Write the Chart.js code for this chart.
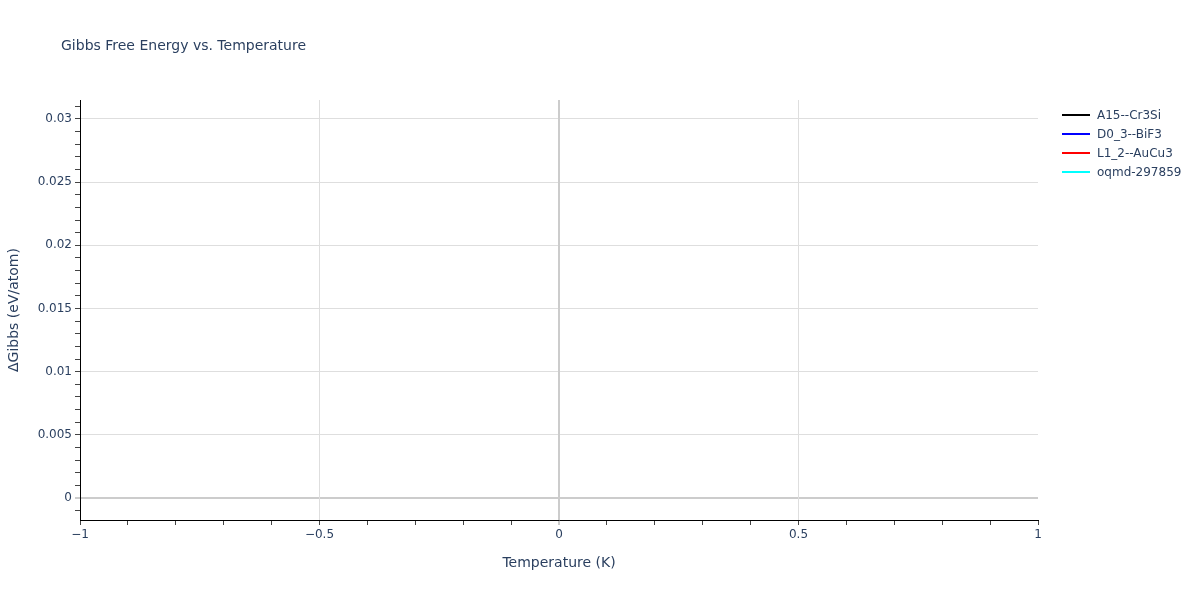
<!DOCTYPE html>
<html>
<head>
<meta charset="utf-8">
<script src="https://cdn.jsdelivr.net/npm/chart.js@4"></script>
<style>
    body { margin: 0; background: #fff; font-family: 'DejaVu Sans', sans-serif; color: #2a3f5f; }
    #wrap { position: relative; width: 1200px; height: 600px; }
    #title { position: absolute; left: 61px; top: 37px; font-size: 14px; white-space: nowrap; }
    #legend { position: absolute; left: 1062px; top: 105px; font-size: 12px; }
    .item { display: flex; align-items: center; height: 19px; }
    .swatch { width: 28px; height: 2px; margin-right: 7px; }
</style>
</head>
<body>
<div id="wrap">
    <canvas id="gibbsChart" width="1200" height="600"></canvas>
    <div id="title">Gibbs Free Energy vs. Temperature</div>
    <div id="legend"></div>
</div>
<script>
// series names and colours
const seriesNames = ['A15--Cr3Si', 'D0_3--BiF3', 'L1_2--AuCu3', 'oqmd-297859'];
const seriesColors = ['#000000', '#0000ff', '#ff0000', '#00ffff'];

// temperature (K) and ΔGibbs (eV/atom) values, one point per series
const temperatures = [[0], [0], [0], [0]];
const gibbsValues = [[0], [0], [0], [0]];

// axis ranges and major tick labels
const xRange = [-1, 1];
const yRange = [-0.00174, 0.0315];
const xMajorTicks = [-1, -0.5, 0, 0.5, 1];
const yMajorTicks = [0, 0.005, 0.01, 0.015, 0.02, 0.025, 0.03];

const FONT = "'DejaVu Sans', sans-serif";

const legendEl = document.getElementById('legend');
seriesNames.forEach((name, i) => {
    const row = document.createElement('div');
    row.className = 'item';
    row.innerHTML = '<span class="swatch" style="background:' + seriesColors[i] + '"></span>' + name;
    legendEl.appendChild(row);
});

const isMajor = (value, list) => list.some(t => Math.abs(t - value) < 1e-9);
const isZero = v => Math.abs(v) < 1e-9;
const fmt = v => String(v).replace('-', '\u2212');

const ctx = document.getElementById('gibbsChart').getContext('2d');

new Chart(ctx, {
    type: 'line',
    data: {
        datasets: seriesNames.map((name, i) => ({
            label: name,
            data: temperatures[i].map((t, j) => ({ x: t, y: gibbsValues[i][j] })),
            borderColor: seriesColors[i],
            backgroundColor: seriesColors[i],
            borderWidth: 2,
            pointRadius: 0,
            fill: false,
        }))
    },
    options: {
        responsive: false,
        animation: false,
        layout: {
            padding: { top: 100, right: 162, bottom: 0, left: 0 }
        },
        plugins: {
            legend: { display: false },
            title: { display: false },
            tooltip: { enabled: false }
        },
        scales: {
            x: {
                type: 'linear',
                min: xRange[0],
                max: xRange[1],
                afterFit: scale => { scale.height = 80; },
                border: { color: '#000', width: 1 },
                grid: {
                    tickLength: 5,
                    color: c => {
                        const v = c.tick.value;
                        if (isZero(v)) return '#cccccc';
                        if (isZero(Math.abs(v) - 1)) return 'rgba(0,0,0,0)';
                        return isMajor(v, xMajorTicks) ? '#dedede' : 'rgba(0,0,0,0)';
                    },
                    lineWidth: c => isZero(c.tick.value) ? 2 : 1,
                    tickColor: c => isZero(c.tick.value) ? '#cccccc' : '#444'
                },
                ticks: {
                    stepSize: 0.1,
                    includeBounds: false,
                    autoSkip: false,
                    maxRotation: 0,
                    padding: 3,
                    color: '#2a3f5f',
                    font: { family: FONT, size: 12 },
                    callback: v => isMajor(v, xMajorTicks) ? fmt(Math.round(v * 10) / 10) : ''
                },
                title: {
                    display: true,
                    text: 'Temperature (K)',
                    color: '#2a3f5f',
                    font: { family: FONT, size: 14 },
                    padding: { top: 0, bottom: 28.6 }
                }
            },
            y: {
                type: 'linear',
                min: yRange[0],
                max: yRange[1],
                afterFit: scale => { scale.width = 80; },
                border: { color: '#000', width: 1 },
                grid: {
                    z: -2,
                    tickLength: 5,
                    color: c => {
                        const v = c.tick.value;
                        if (isZero(v)) return '#cccccc';
                        return isMajor(v, yMajorTicks) ? '#dedede' : 'rgba(0,0,0,0)';
                    },
                    lineWidth: c => isZero(c.tick.value) ? 2 : 1,
                    tickColor: c => isZero(c.tick.value) ? '#cccccc' : '#444'
                },
                ticks: {
                    stepSize: 0.001,
                    includeBounds: false,
                    autoSkip: false,
                    padding: 3,
                    color: '#2a3f5f',
                    font: { family: FONT, size: 12 },
                    callback: v => isMajor(v, yMajorTicks) ? String(Math.round(v * 1000) / 1000) : ''
                },
                title: {
                    display: true,
                    text: '\u0394Gibbs (eV/atom)',
                    color: '#2a3f5f',
                    font: { family: FONT, size: 14 },
                    padding: { top: 5.6, bottom: 0 }
                }
            }
        }
    }
});
</script>
</body>
</html>
